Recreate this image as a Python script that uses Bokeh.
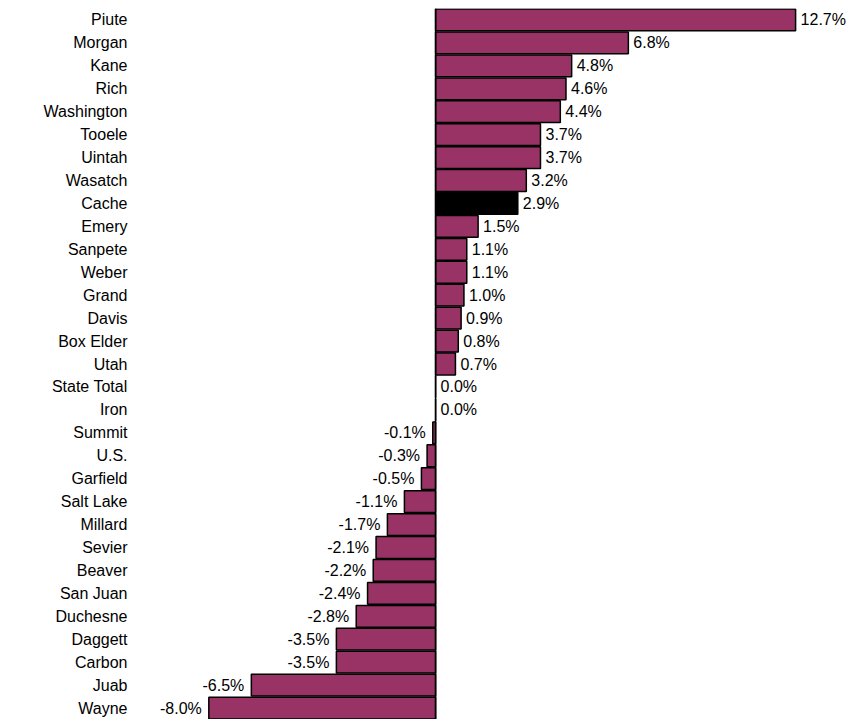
from bokeh.plotting import figure
from bokeh.models import ColumnDataSource, FactorRange, Range1d, Span
from bokeh.core.properties import value
from bokeh.embed import file_html
from bokeh.resources import INLINE

counties = ["Piute", "Morgan", "Kane", "Rich", "Washington", "Tooele", "Uintah",
            "Wasatch", "Cache", "Emery", "Sanpete", "Weber", "Grand", "Davis",
            "Box Elder", "Utah", "State Total", "Iron", "Summit", "U.S.", "Garfield",
            "Salt Lake", "Millard", "Sevier", "Beaver", "San Juan", "Duchesne",
            "Daggett", "Carbon", "Juab", "Wayne"]
change = [12.7, 6.8, 4.8, 4.6, 4.4, 3.7, 3.7, 3.2, 2.9, 1.5, 1.1, 1.1, 1.0, 0.9,
          0.8, 0.7, 0.0, 0.0, -0.1, -0.3, -0.5, -1.1, -1.7, -2.1, -2.2, -2.4,
          -2.8, -3.5, -3.5, -6.5, -8.0]
highlight = "Cache"

FONT = "Liberation Sans"
colors = ["#000000" if c == highlight else "#993366" for c in counties]
labels = [f"{v:.1f}%" for v in change]

src = ColumnDataSource(dict(county=counties, change=change, color=colors, label=labels))
pos = ColumnDataSource(dict(
    county=[c for c, v in zip(counties, change) if v >= 0],
    change=[v for v in change if v >= 0],
    label=[l for l, v in zip(labels, change) if v >= 0]))
neg = ColumnDataSource(dict(
    county=[c for c, v in zip(counties, change) if v < 0],
    change=[v for v in change if v < 0],
    label=[l for l, v in zip(labels, change) if v < 0]))

p = figure(width=862, height=719, output_backend="svg", toolbar_location=None,
           y_range=FactorRange(factors=list(reversed(counties)), range_padding=0),
           x_range=Range1d(-10.41, 15.06),
           min_border_left=140, min_border_right=0, min_border_top=8, min_border_bottom=0)

p.hbar(y="county", right="change", left=0, height=0.95, source=src,
       fill_color="color", line_color="black", line_width=1.5)

p.add_layout(Span(location=0, dimension="height", line_color="black", line_width=1.5))

p.text(x="change", y="county", text="label", source=pos, x_offset=5,
       text_align="left", text_baseline="middle", text_font=value(FONT),
       text_font_size="16px", text_color="black")
p.text(x="change", y="county", text="label", source=neg, x_offset=-7,
       text_align="right", text_baseline="middle", text_font=value(FONT),
       text_font_size="16px", text_color="black")

p.xaxis.visible = False
p.yaxis.axis_line_color = None
p.yaxis.major_tick_line_color = None
p.yaxis.minor_tick_line_color = None
p.yaxis.major_label_standoff = 7
p.yaxis.major_label_text_font = FONT
p.yaxis.major_label_text_font_size = "16px"
p.yaxis.major_label_text_color = "black"
p.xgrid.grid_line_color = None
p.ygrid.grid_line_color = None
p.outline_line_color = None

open("out.html", "w").write(file_html(p, INLINE))
